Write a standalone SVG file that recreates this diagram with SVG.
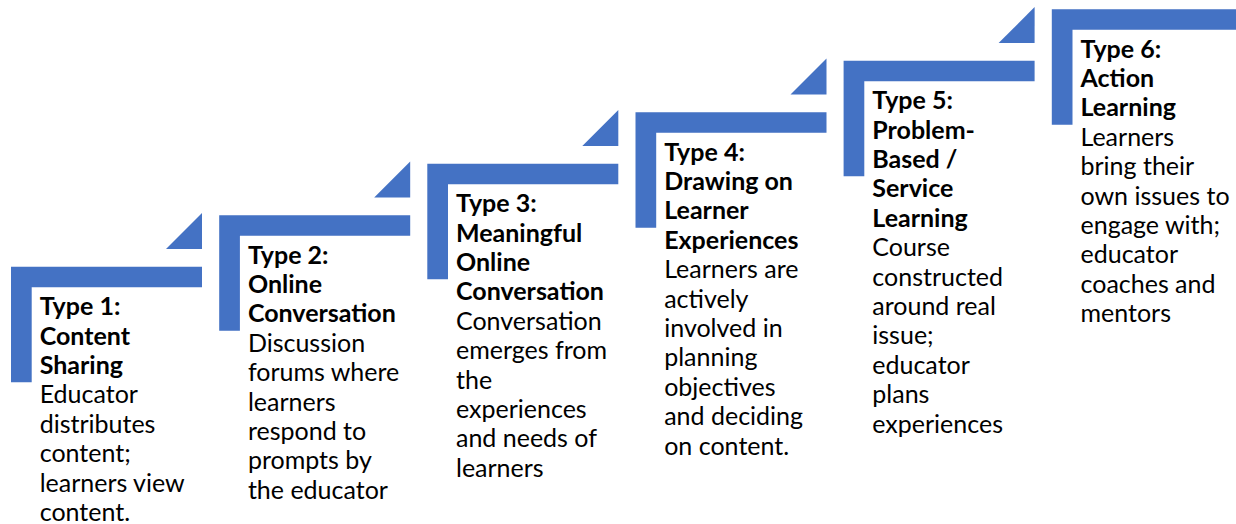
<svg xmlns="http://www.w3.org/2000/svg" width="1236" height="524" viewBox="0 0 1236 524">
  <style>
    .bar { fill: #4472C4; }
    .tri { fill: #4472C4; }
    .label { font-family: Lato, "Liberation Sans", sans-serif; font-size: 25px; fill: #000000; }
    .head { font-weight: bold; }
  </style>
  <defs>
    <!-- L-shaped step: top bar 191 wide, left post 115.6 tall, 20.6 thick -->
    <path id="step-shape" class="bar" d="M0 0 H191 V20.6 H20.7 V115.6 H0 Z"/>
    <!-- corner accent sitting above the right end of the top bar -->
    <path id="step-accent" class="tri" d="M155 -17.6 H191 V-53.6 Z"/>
  </defs>

  <g id="step1" transform="translate(11 266.7)">
    <use href="#step-shape"/>
    <use href="#step-accent"/>
    <text class="label" x="28.7" y="48.5">
      <tspan class="head" x="28.7" dy="0">Type 1:</tspan>
      <tspan class="head" x="28.7" dy="29.4">Content</tspan>
      <tspan class="head" x="28.7" dy="29.4">Sharing</tspan>
      <tspan x="28.7" dy="29.4">Educator</tspan>
      <tspan x="28.7" dy="29.4">distributes</tspan>
      <tspan x="28.7" dy="29.4">content;</tspan>
      <tspan x="28.7" dy="29.4">learners view</tspan>
      <tspan x="28.7" dy="29.4">content.</tspan>
    </text>
  </g>

  <g id="step2" transform="translate(219.2 215.2)">
    <use href="#step-shape"/>
    <use href="#step-accent"/>
    <text class="label" x="28.7" y="48.5">
      <tspan class="head" x="28.7" dy="0">Type 2:</tspan>
      <tspan class="head" x="28.7" dy="29.4">Online</tspan>
      <tspan class="head" x="28.7" dy="29.4">Conversation</tspan>
      <tspan x="28.7" dy="29.4">Discussion</tspan>
      <tspan x="28.7" dy="29.4">forums where</tspan>
      <tspan x="28.7" dy="29.4">learners</tspan>
      <tspan x="28.7" dy="29.4">respond to</tspan>
      <tspan x="28.7" dy="29.4">prompts by</tspan>
      <tspan x="28.7" dy="29.4">the educator</tspan>
    </text>
  </g>

  <g id="step3" transform="translate(427.3 163.7)">
    <use href="#step-shape"/>
    <use href="#step-accent"/>
    <text class="label" x="28.7" y="48.5">
      <tspan class="head" x="28.7" dy="0">Type 3:</tspan>
      <tspan class="head" x="28.7" dy="29.4">Meaningful</tspan>
      <tspan class="head" x="28.7" dy="29.4">Online</tspan>
      <tspan class="head" x="28.7" dy="29.4">Conversation</tspan>
      <tspan x="28.7" dy="29.4">Conversation</tspan>
      <tspan x="28.7" dy="29.4">emerges from</tspan>
      <tspan x="28.7" dy="29.4">the</tspan>
      <tspan x="28.7" dy="29.4">experiences</tspan>
      <tspan x="28.7" dy="29.4">and needs of</tspan>
      <tspan x="28.7" dy="29.4">learners</tspan>
    </text>
  </g>

  <g id="step4" transform="translate(635.5 112.2)">
    <use href="#step-shape"/>
    <use href="#step-accent"/>
    <text class="label" x="28.7" y="48.5">
      <tspan class="head" x="28.7" dy="0">Type 4:</tspan>
      <tspan class="head" x="28.7" dy="29.4">Drawing on</tspan>
      <tspan class="head" x="28.7" dy="29.4">Learner</tspan>
      <tspan class="head" x="28.7" dy="29.4">Experiences</tspan>
      <tspan x="28.7" dy="29.4">Learners are</tspan>
      <tspan x="28.7" dy="29.4">actively</tspan>
      <tspan x="28.7" dy="29.4">involved in</tspan>
      <tspan x="28.7" dy="29.4">planning</tspan>
      <tspan x="28.7" dy="29.4">objectives</tspan>
      <tspan x="28.7" dy="29.4">and deciding</tspan>
      <tspan x="28.7" dy="29.4">on content.</tspan>
    </text>
  </g>

  <g id="step5" transform="translate(843.6 60.7)">
    <use href="#step-shape"/>
    <use href="#step-accent"/>
    <text class="label" x="28.7" y="48.5">
      <tspan class="head" x="28.7" dy="0">Type 5:</tspan>
      <tspan class="head" x="28.7" dy="29.4">Problem-</tspan>
      <tspan class="head" x="28.7" dy="29.4">Based /</tspan>
      <tspan class="head" x="28.7" dy="29.4">Service</tspan>
      <tspan class="head" x="28.7" dy="29.4">Learning</tspan>
      <tspan x="28.7" dy="29.4">Course</tspan>
      <tspan x="28.7" dy="29.4">constructed</tspan>
      <tspan x="28.7" dy="29.4">around real</tspan>
      <tspan x="28.7" dy="29.4">issue;</tspan>
      <tspan x="28.7" dy="29.4">educator</tspan>
      <tspan x="28.7" dy="29.4">plans</tspan>
      <tspan x="28.7" dy="29.4">experiences</tspan>
    </text>
  </g>

  <g id="step6" transform="translate(1051.8 9.2)">
    <use href="#step-shape"/>
    <text class="label" x="28.7" y="48.5">
      <tspan class="head" x="28.7" dy="0">Type 6:</tspan>
      <tspan class="head" x="28.7" dy="29.4">Action</tspan>
      <tspan class="head" x="28.7" dy="29.4">Learning</tspan>
      <tspan x="28.7" dy="29.4">Learners</tspan>
      <tspan x="28.7" dy="29.4">bring their</tspan>
      <tspan x="28.7" dy="29.4">own issues to</tspan>
      <tspan x="28.7" dy="29.4">engage with;</tspan>
      <tspan x="28.7" dy="29.4">educator</tspan>
      <tspan x="28.7" dy="29.4">coaches and</tspan>
      <tspan x="28.7" dy="29.4">mentors</tspan>
    </text>
  </g>
</svg>
